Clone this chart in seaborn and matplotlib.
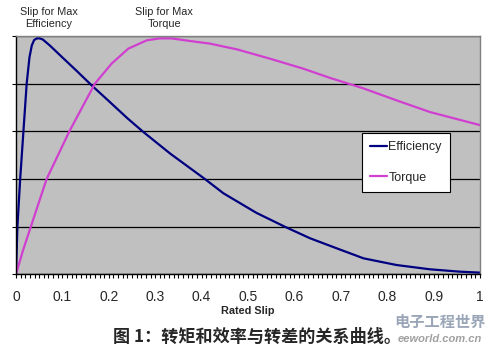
import numpy as np
import pandas as pd
import matplotlib
matplotlib.use("Agg")
import matplotlib.pyplot as plt
from matplotlib.ticker import MultipleLocator
import seaborn as sns

# Data (normalised, no y labels in the source)
eff_slip = [0, 0.003, 0.009, 0.016, 0.023, 0.029, 0.034, 0.039, 0.045, 0.051, 0.058,
            0.073, 0.1, 0.13, 0.163, 0.2, 0.24, 0.274, 0.332, 0.407, 0.447,
            0.518, 0.579, 0.634, 0.698, 0.749, 0.82, 0.892, 0.957, 1.0]
eff_vals = [0, 0.2, 0.4, 0.6, 0.8, 0.91, 0.96, 0.983, 0.99, 0.99, 0.985,
            0.96, 0.91, 0.855, 0.793, 0.727, 0.655, 0.598, 0.507, 0.40, 0.34,
            0.258, 0.2, 0.151, 0.104, 0.067, 0.039, 0.021, 0.011, 0.007]

torque_slip = [0, 0.015, 0.032, 0.066, 0.115, 0.170, 0.206, 0.242, 0.282, 0.31,
               0.335, 0.375, 0.418, 0.476, 0.547, 0.619, 0.677, 0.749, 0.82,
               0.892, 1.0]
torque_vals = [0, 0.1, 0.2, 0.4, 0.6, 0.8, 0.884, 0.947, 0.982, 0.99,
               0.99, 0.979, 0.968, 0.944, 0.905, 0.863, 0.824, 0.78, 0.73,
               0.681, 0.626]

x_ticks = [0, 0.1, 0.2, 0.3, 0.4, 0.5, 0.6, 0.7, 0.8, 0.9, 1.0]
x_tick_labels = ["0", "0.1", "0.2", "0.3", "0.4", "0.5", "0.6", "0.7", "0.8", "0.9", "1"]

sns.set_style("white")
plt.rcParams['font.family'] = ['Liberation Sans', 'Noto Sans CJK SC', 'DejaVu Sans']

fig = plt.figure(figsize=(4.9, 3.52), dpi=100)
ax = fig.add_axes([16 / 490, 1 - 274.3 / 352, 464 / 490, 238.3 / 352])
ax.set_facecolor("#C0C0C0")

sns.lineplot(x=eff_slip, y=eff_vals, ax=ax, color="#000080", linewidth=1.6,
             label="Efficiency", estimator=None, sort=False)
sns.lineplot(x=torque_slip, y=torque_vals, ax=ax, color="#D03FD0", linewidth=1.6,
             label="Torque", estimator=None, sort=False)

ax.set_xlim(0, 1)
ax.set_ylim(0, 1)
ax.set_xticks(x_ticks)
ax.set_xticklabels(x_tick_labels, fontsize=10)
ax.xaxis.set_minor_locator(MultipleLocator(0.01))
ax.set_yticks([0, 0.2, 0.4, 0.6, 0.8, 1.0])
ax.set_yticklabels([])
ax.tick_params(axis="x", which="both", direction="out", length=3, width=0.8,
               color="black", bottom=True, pad=8)
ax.tick_params(axis="y", which="major", direction="out", length=3, width=0.8,
               color="black", left=True)
ax.yaxis.grid(True, color="black", linewidth=0.9)
ax.set_axisbelow(True)

for side in ["left", "bottom"]:
    ax.spines[side].set_color("black")
    ax.spines[side].set_linewidth(1.0)
for side in ["top", "right"]:
    ax.spines[side].set_color("#808080")
    ax.spines[side].set_linewidth(1.0)

ax.set_xlabel("Rated Slip", fontsize=7.8, fontweight="bold", labelpad=2)
ax.set_ylabel("")

leg = ax.legend(loc="upper left", bbox_to_anchor=(0.746, 0.593), fontsize=9,
                frameon=True, fancybox=False, framealpha=1, edgecolor="black",
                handlelength=1.3, handletextpad=0.15, labelspacing=1.5,
                borderpad=0.65, borderaxespad=0)
leg.get_frame().set_linewidth(0.8)

# annotations above the plot
fig.text(49 / 490, 1 - 18 / 352, "Slip for Max\nEfficiency", ha="center", va="center",
         fontsize=7.8, linespacing=1.2)
fig.text(164 / 490, 1 - 18 / 352, "Slip for Max\nTorque", ha="center", va="center",
         fontsize=7.8, linespacing=1.2)

# caption
fig.text(257 / 490, 1 - 337 / 352, "图 1：转矩和效率与转差的关系曲线。", ha="center", va="center",
         fontsize=12.3, fontweight="bold", family=["Noto Sans CJK SC", "DejaVu Sans"])

# faint watermark
fig.text(440 / 490, 1 - 322 / 352, "电子工程世界", ha="center", va="center", fontsize=11,
         fontweight="bold", color="#9aa6b8", family=["Noto Sans CJK SC", "DejaVu Sans"])
fig.text(440 / 490, 1 - 339 / 352, "eeworld.com.cn", ha="center", va="center", fontsize=8,
         style="italic", fontweight="bold", color="#a0a0a0")

fig.savefig("out.png", dpi=100, facecolor="white")
